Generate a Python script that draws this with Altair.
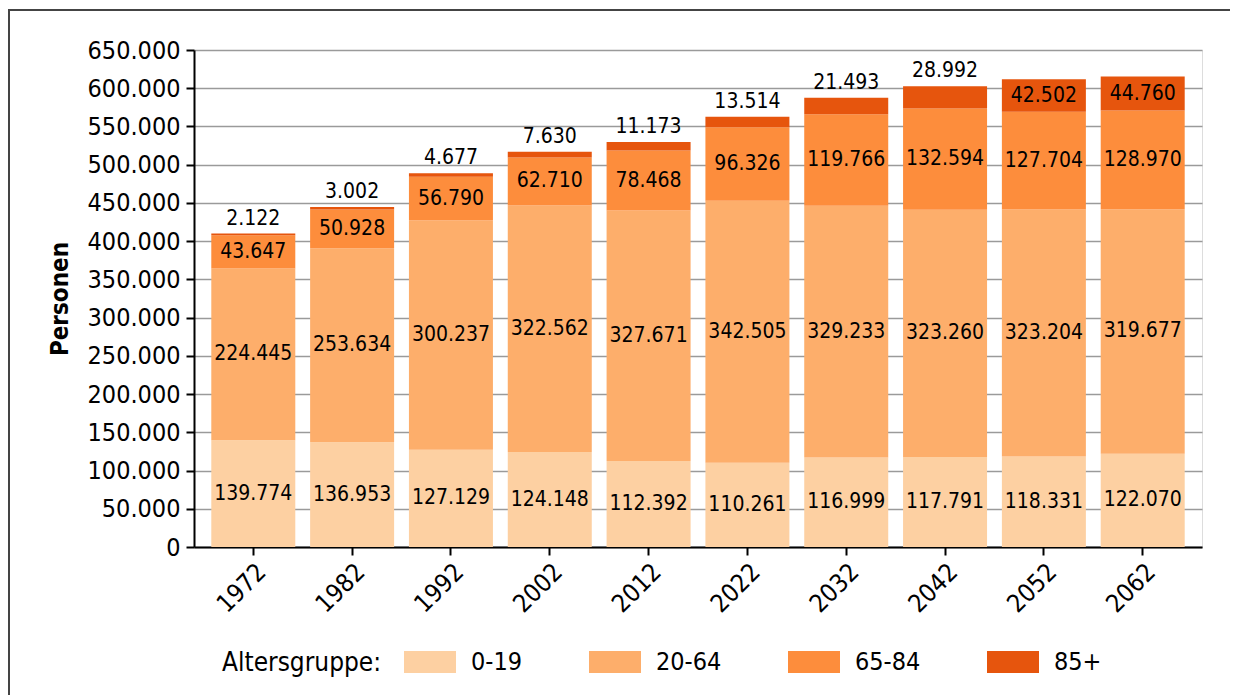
import altair as alt
import pandas as pd

years = ["1972", "1982", "1992", "2002", "2012", "2022", "2032", "2042", "2052", "2062"]
groups = ["0-19", "20-64", "65-84", "85+"]
a0_19 = [139774, 136953, 127129, 124148, 112392, 110261, 116999, 117791, 118331, 122070]
a20_64 = [224445, 253634, 300237, 322562, 327671, 342505, 329233, 323260, 323204, 319677]
a65_84 = [43647, 50928, 56790, 62710, 78468, 96326, 119766, 132594, 127704, 128970]
a85 = [2122, 3002, 4677, 7630, 11173, 13514, 21493, 28992, 42502, 44760]
y_ticks = [0, 50000, 100000, 150000, 200000, 250000, 300000, 350000, 400000,
           450000, 500000, 550000, 600000, 650000]
colors = ["#FDD0A2", "#FDAE6B", "#FD8D3C", "#E6550D"]

series = [a0_19, a20_64, a65_84, a85]
rows = []
for i, y in enumerate(years):
    base = 0
    for g, s in zip(groups, series):
        v = s[i]
        inside = v > 35000
        rows.append({
            "year": y, "group": g, "value": v,
            "y0": base, "y1": base + v,
            "ly": (base + v / 2) if inside else base + v,
            "inside": inside,
            "label": f"{v:,}".replace(",", "."),
        })
        base += v
df = pd.DataFrame(rows)

FONT = "DejaVu Sans Condensed, DejaVu Sans"

x_axis = alt.Axis(labelAngle=-45, labelFontSize=25, labelColor="black",
                  domainColor="black", domainWidth=2, tickColor="black",
                  tickWidth=2, tickSize=8, labelPadding=4, grid=False)
x_scale = alt.Scale(paddingInner=0.15, paddingOuter=0.175)
y_scale = alt.Scale(domain=[0, 650000], nice=False)
y_axis = alt.Axis(values=y_ticks, labelOverlap=False,
                  labelExpr="replace(format(datum.value, ','), ',', '.')",
                  labelFontSize=25, labelColor="black", labelPadding=6,
                  domainColor="black", domainWidth=2, tickColor="black",
                  tickWidth=2, tickSize=8, grid=True, gridColor="#9a9a9a",
                  gridWidth=1.5, titleFontSize=24, titleFontWeight="bold",
                  titleColor="black", titlePadding=15)

bars = alt.Chart(df).mark_bar().encode(
    x=alt.X("year:N", title=None, scale=x_scale, axis=x_axis),
    y=alt.Y("y0:Q", title="Personen", scale=y_scale, axis=y_axis),
    y2="y1:Q",
    color=alt.Color("group:N", scale=alt.Scale(domain=groups, range=colors),
                    legend=alt.Legend(
                        title="Altersgruppe:", orient="none", legendX=28, legendY=586,
                        direction="horizontal", titleOrient="left",
                        titleAnchor="middle", titleBaseline="line-top",
                        titleLineHeight=14,
                        titleFontSize=26, titleFontWeight="normal", titleColor="black",
                        titlePadding=22,
                        labelFontSize=25, labelColor="black", labelOffset=15,
                        symbolType="M-1,-0.42H1V0.42H-1Z", symbolSize=2704,
                        symbolStrokeWidth=0, symbolOpacity=1, columnPadding=66)),
)

inside_txt = alt.Chart(df[df["inside"]]).mark_text(
    fontSize=21, color="black", baseline="middle", font=FONT
).encode(x=alt.X("year:N", title=None, scale=x_scale, axis=x_axis),
         y=alt.Y("ly:Q", title="Personen", scale=y_scale, axis=y_axis),
         text="label:N")

above_txt = alt.Chart(df[~df["inside"]]).mark_text(
    fontSize=21, color="black", baseline="alphabetic", dy=-9, font=FONT
).encode(x=alt.X("year:N", title=None, scale=x_scale, axis=x_axis),
         y=alt.Y("ly:Q", title="Personen", scale=y_scale, axis=y_axis),
         text="label:N")

frame_src = pd.DataFrame({"k": [0]})
top_line = alt.Chart(frame_src).mark_rect(color="#444444").encode(
    x=alt.value(-186), x2=alt.value(1036), y=alt.value(-41), y2=alt.value(-39))
left_line = alt.Chart(frame_src).mark_rect(color="#444444").encode(
    x=alt.value(-186), x2=alt.value(-184), y=alt.value(-41), y2=alt.value(645))

chart = alt.layer(bars, inside_txt, above_txt, top_line, left_line).properties(
    width=1008, height=497,
    padding={"left": 0, "top": 1, "right": 0, "bottom": 0},
).configure_view(stroke=None).configure(font=FONT)

chart.save("out.html", embed_options={"renderer": "svg", "actions": False})
